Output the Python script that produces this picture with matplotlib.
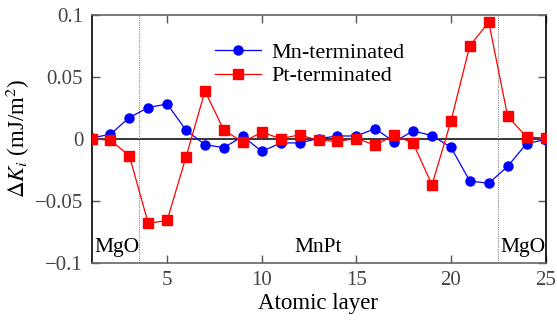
import matplotlib
matplotlib.use("Agg")
import matplotlib.pyplot as plt

layers = list(range(1, 26))
mn_term = [0.0005, 0.0035, 0.017, 0.025, 0.028, 0.0067, -0.0049, -0.0073, 0.0019, -0.0103,
           -0.0036, -0.0034, 0.0, 0.0021, 0.0021, 0.0081, -0.0027, 0.0062, 0.0024, -0.0070,
           -0.0343, -0.036, -0.0224, -0.004, -0.0008]
pt_term = [0.0, -0.0014, -0.0138, -0.0684, -0.066, -0.0146, 0.0383, 0.0067, -0.0027, 0.0051,
           0.0, 0.003, -0.0014, -0.0022, 0.0, -0.0052, 0.0027, -0.0036, -0.0373, 0.014,
           0.075, 0.094, 0.018, 0.0013, 0.0004]
boundaries = [3.5, 22.5]
xticks = [5, 10, 15, 20, 25]
yticks = [-0.1, -0.05, 0, 0.05, 0.1]
ytick_labels = ["\u22120.1", "\u22120.05", "0", "0.05", "0.1"]

plt.rcParams['font.family'] = ['Liberation Serif', 'DejaVu Serif']
plt.rcParams['mathtext.fontset'] = 'stix'

fig = plt.figure(figsize=(5.57, 3.23), dpi=100)
ax = fig.add_axes([91.5/557, 1 - 262.5/323, (545.5-91.5)/557, (262.5-14.7)/323])

ax.axhline(0, color='black', lw=1.1, zorder=1)
for b in boundaries:
    ax.axvline(b, color='#888888', lw=0.8, ls=(0, (1, 1)), zorder=1)

ax.plot(layers, mn_term, color='#0000ff', marker='o', ms=6.5, lw=0.9, label='Mn-terminated', zorder=3)
ax.plot(layers, pt_term, color='#ff0000', marker='s', ms=6.5, lw=0.9, label='Pt-terminated', zorder=3)

ax.set_xlim(1, 25)
ax.set_ylim(-0.1, 0.1)
ax.set_xticks(xticks)
ax.set_yticks(yticks)
ax.set_yticklabels(ytick_labels)
ax.tick_params(direction='in', length=6, width=1, top=True, right=True, labelsize=15,
               labelcolor='#444444', color='#555555', pad=6)
ax.spines['top'].set_color('#666666')
ax.spines['bottom'].set_color('#666666')
ax.spines['left'].set_color('black')
ax.spines['right'].set_color('black')
for s in ax.spines.values():
    s.set_linewidth(1.2)

ax.set_xlabel('Atomic layer', fontsize=16.5, labelpad=2)
ax.set_ylabel(r'$\Delta K_i$ (mJ/m$^2$)', fontsize=16.5, labelpad=2)

ax.text(1.15, -0.0955, 'MgO', fontsize=15.5, ha='left', va='bottom')
ax.text(13, -0.0955, 'MnPt', fontsize=15.5, ha='center', va='bottom')
ax.text(22.6, -0.0955, 'MgO', fontsize=15.5, ha='left', va='bottom')

ax.legend(loc='upper left', bbox_to_anchor=(0.237, 0.95), frameon=False, fontsize=16,
          handlelength=2.1, handletextpad=0.45, labelspacing=0.12, borderpad=0.2)

fig.savefig('out.png', dpi=100)
